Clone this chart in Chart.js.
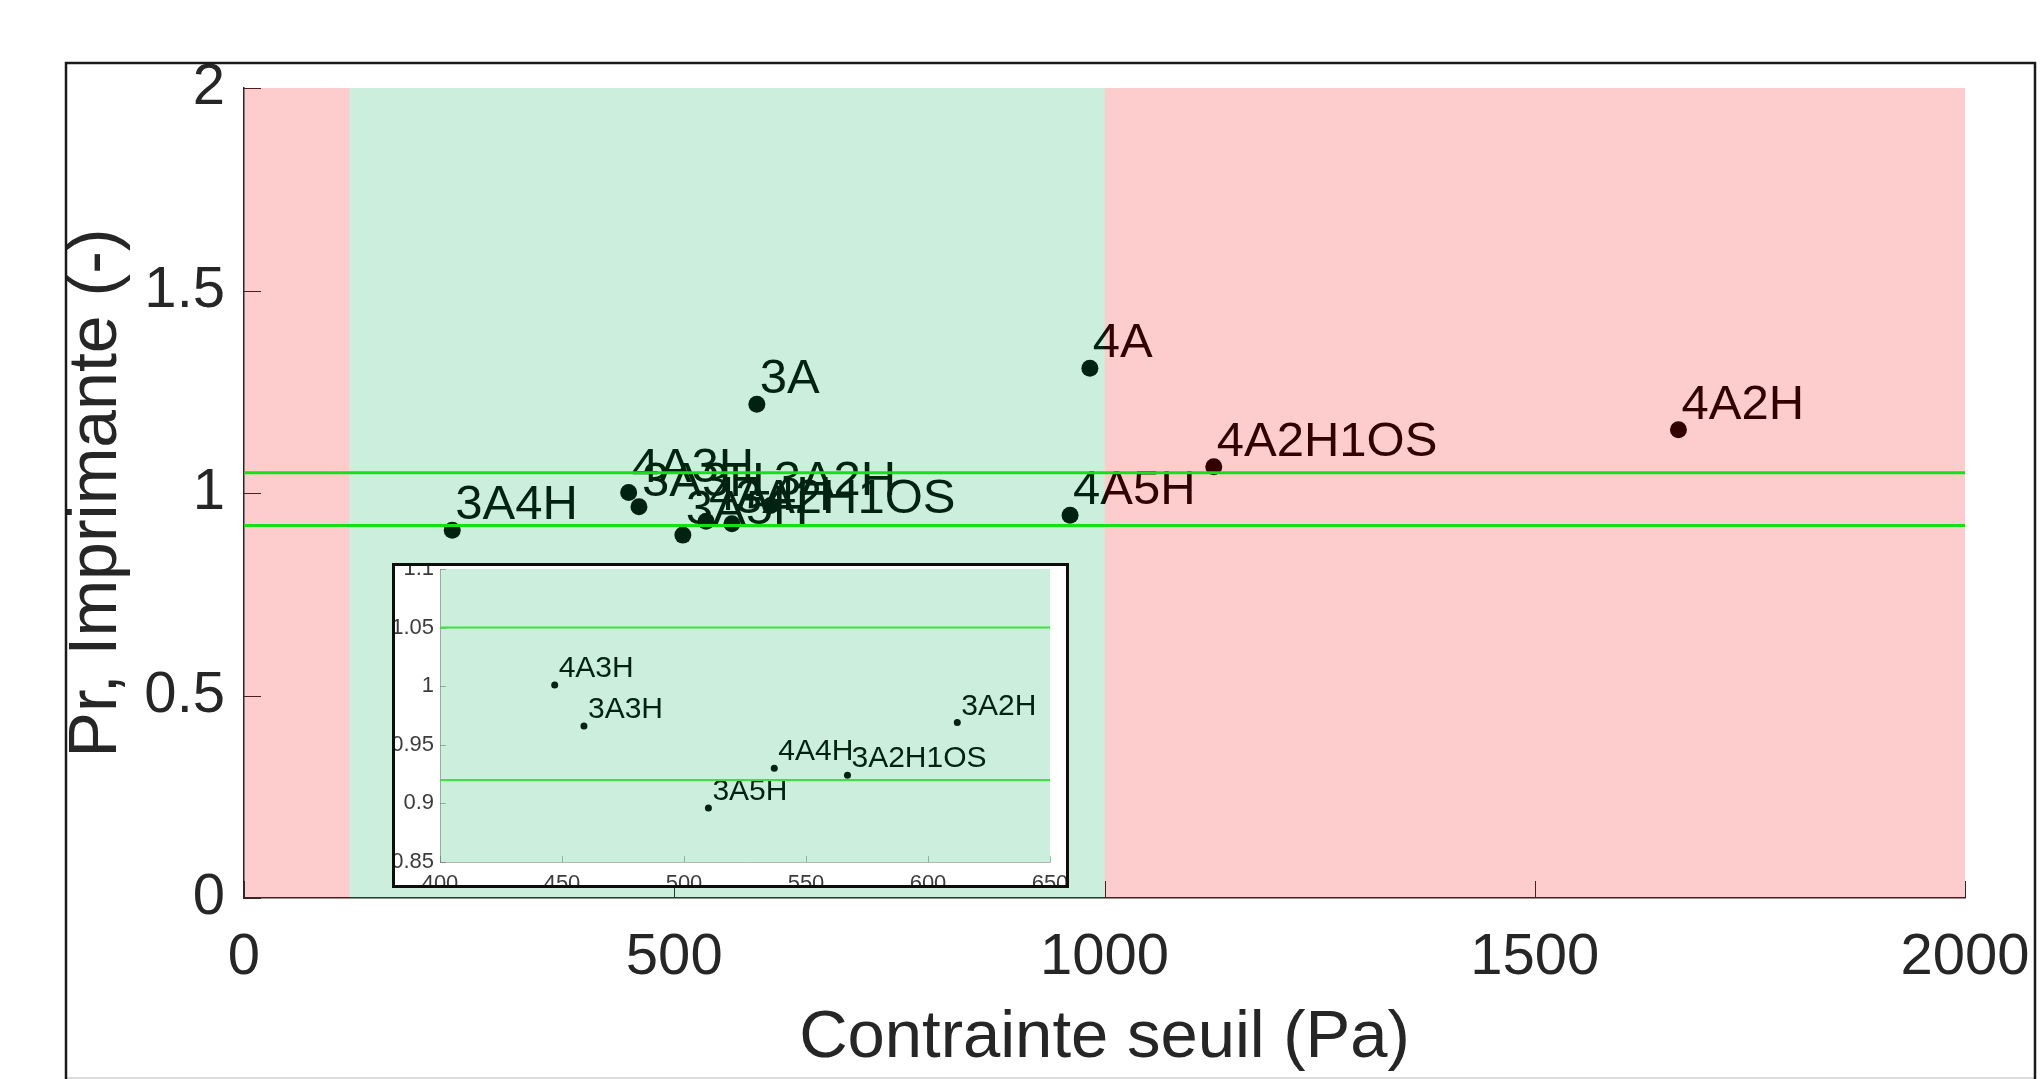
<!DOCTYPE html>
<html>
<head>
<meta charset="utf-8">
<script src="https://cdn.jsdelivr.net/npm/chart.js@4.4.0/dist/chart.umd.min.js"></script>
<style>
  html, body { margin: 0; padding: 0; background: #fff; overflow: hidden; }
  #wrap { position: relative; width: 2042px; height: 1079px; }
  #main { position: absolute; left: 0; top: 0; }
  #inset { position: absolute; left: 392px; top: 563px; }
</style>
</head>
<body>
<div id="wrap">
  <canvas id="main" width="2042" height="1079" style="width:2042px;height:1079px"></canvas>
  <canvas id="inset" width="677" height="325" style="width:677px;height:325px"></canvas>
</div>
<script>
const FAMILY = '"Liberation Sans", Arial, Helvetica, sans-serif';
const AXIS = '#262626';

// samples: yield stress (Pa) vs printability Pr
const sampleNames = ['3A4H', '4A3H', '3A3H', '3A5H', '4A4H', '3A2H1OS', '3A2H', '3A', '4A5H', '4A', '4A2H1OS', '4A2H'];
const yieldStress = [242, 447, 459, 510, 537, 567, 612, 596, 960, 983, 1127, 1667];
const printability = [0.908, 1.001, 0.966, 0.896, 0.930, 0.924, 0.969, 1.219, 0.945, 1.308, 1.065, 1.156];

const xTicks = [0, 500, 1000, 1500, 2000];
const yTicks = [0, 0.5, 1, 1.5, 2];
const thresholds = [0.92, 1.05];

// shaded zones (x range), red = out, green = ok
const zoneFrom = [0, 122, 1000];
const zoneTo = [122, 1000, 2000];
const zoneColors = ['rgba(245,0,0,0.2)', 'rgba(0,170,80,0.2)', 'rgba(245,0,0,0.2)'];

// zoomed inset
const insetXRange = [400, 650];
const insetYRange = [0.85, 1.1];
const insetXTicks = [400, 450, 500, 550, 600, 650];
const insetYTicks = [0.85, 0.9, 0.95, 1, 1.05, 1.1];

Chart.defaults.font.family = FAMILY;

function pointsOf(xs, ys) { return xs.map((x, i) => ({ x: x, y: ys[i] })); }
function hLine(y, x0, x1) { return [{ x: x0, y: y }, { x: x1, y: y }]; }

// labels + inward ticks + shading, drawn right after the points so they get tinted
function makeOverlay(cfg) {
  return {
    id: 'overlay',
    beforeDraw(chart) {
      const ctx = chart.ctx;
      ctx.save();
      ctx.fillStyle = '#fff';
      ctx.fillRect(0, 0, chart.width, chart.height);
      ctx.restore();
    },
    afterDatasetDraw(chart, args) {
      if (args.index !== 0) return;
      const ctx = chart.ctx;
      const xs = chart.scales.x, ys = chart.scales.y;
      const a = chart.chartArea;
      ctx.save();
      ctx.strokeStyle = cfg.tickColor;
      ctx.lineWidth = 1;
      ctx.beginPath();
      cfg.xTicks.forEach(v => {
        const px = Math.round(xs.getPixelForValue(v)) + 0.5;
        ctx.moveTo(px, a.bottom); ctx.lineTo(px, a.bottom - cfg.tickLen);
      });
      cfg.yTicks.forEach(v => {
        const py = Math.round(ys.getPixelForValue(v)) + 0.5;
        ctx.moveTo(a.left, py); ctx.lineTo(a.left + cfg.tickLen, py);
      });
      ctx.stroke();

      ctx.fillStyle = '#000';
      ctx.font = cfg.labelSize + 'px ' + FAMILY;
      ctx.textAlign = 'left';
      ctx.textBaseline = 'alphabetic';
      args.meta.data.forEach((pt, i) => {
        ctx.fillText(cfg.names[i], pt.x + cfg.dx, pt.y + cfg.dy);
      });

      cfg.zones.forEach(z => {
        const x0 = xs.getPixelForValue(z.from), x1 = xs.getPixelForValue(z.to);
        const y0 = ys.getPixelForValue(z.top), y1 = ys.getPixelForValue(z.bottom);
        ctx.fillStyle = z.color;
        ctx.fillRect(x0, y0, x1 - x0, y1 - y0);
      });
      ctx.restore();
    },
    afterDraw(chart) {
      const ctx = chart.ctx;
      ctx.save();
      if (cfg.frame === 'figure') {
        ctx.strokeStyle = '#dcdcdc';
        ctx.lineWidth = 2;
        ctx.beginPath(); ctx.moveTo(66, 1078); ctx.lineTo(2035, 1078); ctx.stroke();
        ctx.strokeStyle = '#1a1a1a';
        ctx.lineWidth = 2.5;
        ctx.beginPath();
        ctx.moveTo(66, 1079); ctx.lineTo(66, 63); ctx.lineTo(2035, 63); ctx.lineTo(2035, 1079);
        ctx.stroke();
      } else {
        ctx.strokeStyle = '#0d0d0d';
        ctx.lineWidth = 3;
        ctx.strokeRect(1.5, 1.5, chart.width - 3, chart.height - 3);
      }
      ctx.restore();
    }
  };
}

function fixedTicks(list) {
  return s => { s.ticks = list.map(v => ({ value: v })); };
}

// ---- main chart ----
const mainZones = zoneFrom.map((f, i) => ({ from: f, to: zoneTo[i], top: yTicks[yTicks.length - 1], bottom: yTicks[0], color: zoneColors[i] }));

new Chart(document.getElementById('main'), {
  type: 'scatter',
  data: {
    datasets: [
      { data: pointsOf(yieldStress, printability), pointRadius: 8.5, pointBackgroundColor: '#000', pointBorderWidth: 0, order: 2 }
    ].concat(thresholds.map(t => ({
      type: 'line', data: hLine(t, xTicks[0], xTicks[xTicks.length - 1]),
      borderColor: '#16e016', borderWidth: 3, pointRadius: 0, order: 1
    })))
  },
  options: {
    responsive: false,
    animation: false,
    events: [],
    layout: { padding: { left: 0, top: 88, right: 77, bottom: 0 } },
    plugins: { legend: { display: false }, tooltip: { enabled: false } },
    scales: {
      x: {
        type: 'linear', min: xTicks[0], max: xTicks[xTicks.length - 1],
        grid: { display: false, drawTicks: false },
        border: { display: true, color: AXIS, width: 1.5 },
        ticks: { padding: 25, color: AXIS, font: { size: 58 }, maxRotation: 0, callback: v => String(v) },
        title: { display: true, text: 'Contrainte seuil (Pa)', color: AXIS, font: { size: 67 }, padding: { top: 0, bottom: 0 } },
        afterBuildTicks: fixedTicks(xTicks),
        afterFit: s => { s.height = 181; s.paddingLeft = 0; s.paddingRight = 0; }
      },
      y: {
        type: 'linear', min: yTicks[0], max: yTicks[yTicks.length - 1],
        grid: { display: false, drawTicks: false },
        border: { display: true, color: AXIS, width: 1.5 },
        ticks: { padding: 19, color: AXIS, font: { size: 58 }, callback: v => String(v) },
        title: { display: true, text: 'Pr, Imprimante (-)', color: AXIS, font: { size: 68 }, padding: { top: 56, bottom: 0 } },
        afterBuildTicks: fixedTicks(yTicks),
        afterFit: s => { s.width = 244; s.paddingTop = 0; s.paddingBottom = 0; }
      }
    }
  },
  plugins: [makeOverlay({
    names: sampleNames, labelSize: 49, dx: 3, dy: -11,
    xTicks: xTicks, yTicks: yTicks, tickLen: 17, tickColor: AXIS,
    zones: mainZones, frame: 'figure'
  })]
});

// ---- inset (zoom on the cluster) ----
const inIdx = yieldStress.map((x, i) => i).filter(i =>
  yieldStress[i] >= insetXRange[0] && yieldStress[i] <= insetXRange[1] &&
  printability[i] >= insetYRange[0] && printability[i] <= insetYRange[1]);
const insetNames = inIdx.map(i => sampleNames[i]);
const insetStress = inIdx.map(i => yieldStress[i]);
const insetPr = inIdx.map(i => printability[i]);

new Chart(document.getElementById('inset'), {
  type: 'scatter',
  data: {
    datasets: [
      { data: pointsOf(insetStress, insetPr), pointRadius: 3.5, pointBackgroundColor: '#000', pointBorderWidth: 0, order: 2 }
    ].concat(thresholds.map(t => ({
      type: 'line', data: hLine(t, insetXRange[0], insetXRange[1]),
      borderColor: '#3fe03f', borderWidth: 2, pointRadius: 0, order: 1
    })))
  },
  options: {
    responsive: false,
    animation: false,
    events: [],
    layout: { padding: { left: 0, top: 6, right: 19, bottom: 0 } },
    plugins: { legend: { display: false }, tooltip: { enabled: false } },
    scales: {
      x: {
        type: 'linear', min: insetXRange[0], max: insetXRange[1],
        grid: { display: false, drawTicks: false },
        border: { display: true, color: 'rgba(90,90,90,0.45)', width: 1 },
        ticks: { padding: 9, color: '#3c3c3c', font: { size: 22 }, maxRotation: 0, callback: v => String(v) },
        afterBuildTicks: fixedTicks(insetXTicks),
        afterFit: s => { s.height = 26; s.paddingLeft = 0; s.paddingRight = 0; }
      },
      y: {
        type: 'linear', min: insetYRange[0], max: insetYRange[1],
        grid: { display: false, drawTicks: false },
        border: { display: true, color: 'rgba(90,90,90,0.45)', width: 1 },
        ticks: { padding: 6, color: '#3c3c3c', font: { size: 22 }, callback: v => String(v) },
        afterBuildTicks: fixedTicks(insetYTicks),
        afterFit: s => { s.width = 48; s.paddingTop = 0; s.paddingBottom = 0; }
      }
    }
  },
  plugins: [makeOverlay({
    names: insetNames, labelSize: 30, dx: 4, dy: -8,
    xTicks: insetXTicks, yTicks: insetYTicks, tickLen: 6, tickColor: 'rgba(90,90,90,0.45)',
    zones: [{ from: insetXRange[0], to: insetXRange[1], top: insetYRange[1], bottom: insetYRange[0], color: 'rgba(0,170,80,0.2)' }],
    frame: 'box'
  })]
});
</script>
</body>
</html>
